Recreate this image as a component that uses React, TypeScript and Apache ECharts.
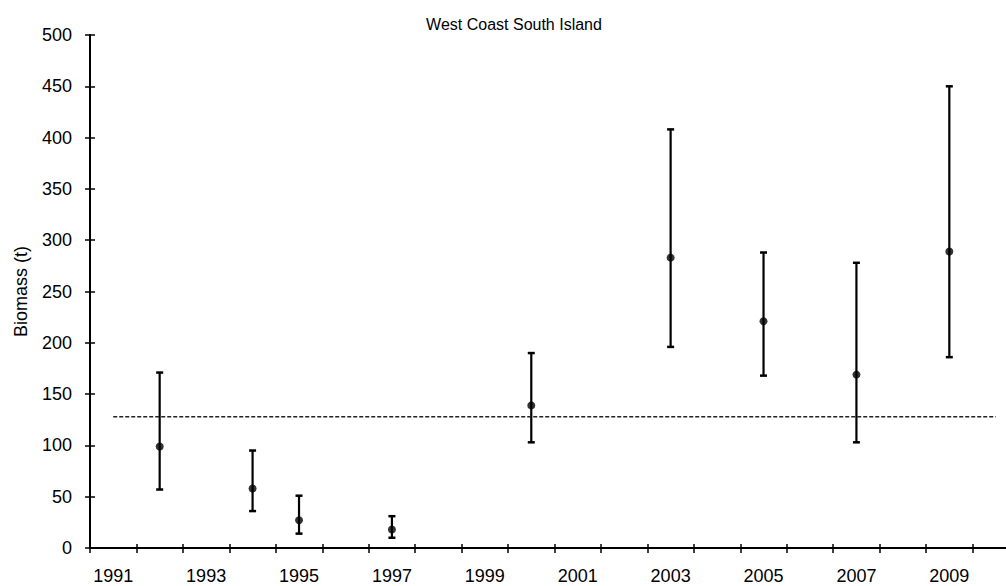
import React, { useEffect, useRef } from "react";
import * as echarts from "echarts";

const years = ["1991","1992","1993","1994","1995","1996","1997","1998","1999","2000","2001","2002","2003","2004","2005","2006","2007","2008","2009","2010"];
const surveyYears = ["1992","1994","1995","1997","2000","2003","2005","2007","2009"];
const biomass = [99, 58, 27, 18, 139, 283, 221, 169, 289];
const lowerCI = [57, 36, 14, 10, 103, 196, 168, 103, 186];
const upperCI = [171, 95, 51, 31, 190, 408, 288, 278, 450];
const referenceLevel = 128;
const referenceSpan = ["1991", "2010"];
const yTicks = { min: 0, max: 500, interval: 50 };

const FONT = "'Liberation Sans', Arial, sans-serif";

export default function App() {
  const ref = useRef<HTMLDivElement>(null);
  useEffect(() => {
    document.body.style.margin = "0";
    document.body.style.overflow = "hidden";
    const chart = echarts.init(ref.current!, undefined, { renderer: "svg" });
    const errData = surveyYears.map((y, i) => [y, lowerCI[i], upperCI[i]]);
    chart.setOption({
      animation: false,
      backgroundColor: "#fff",
      textStyle: { fontFamily: FONT },
      title: {
        text: "West Coast South Island",
        left: 509,
        top: 11,
        textAlign: "center",
        textStyle: { fontFamily: FONT, fontSize: 16, fontWeight: "normal", color: "#000" },
      },
      grid: { left: 90, top: 35, bottom: 38, right: 0, containLabel: false },
      xAxis: [
        {
          type: "category",
          data: years,
          boundaryGap: true,
          axisLine: { lineStyle: { color: "#000", width: 2 } },
          axisTick: { show: true, interval: 0, length: 5, lineStyle: { color: "#000", width: 1.5 } },
          axisLabel: { interval: 1, color: "#000", fontSize: 18, fontFamily: FONT, margin: 19 },
          splitLine: { show: false },
        },
        {
          type: "category",
          data: years,
          boundaryGap: true,
          position: "bottom",
          axisLine: { show: false },
          axisTick: { show: true, inside: true, interval: 0, length: 4, lineStyle: { color: "#000", width: 1.5 } },
          axisLabel: { show: false },
          splitLine: { show: false },
        },
      ],
      yAxis: [
        {
          type: "value",
          min: yTicks.min,
          max: yTicks.max,
          interval: yTicks.interval,
          name: "Biomass (t)",
          nameLocation: "middle",
          nameGap: 60,
          nameTextStyle: { fontFamily: FONT, fontSize: 18, color: "#000" },
          axisLine: { show: true, lineStyle: { color: "#000", width: 2 } },
          axisTick: { show: true, length: 5, lineStyle: { color: "#000", width: 1.5 } },
          axisLabel: { color: "#000", fontSize: 18, fontFamily: FONT, margin: 18 },
          splitLine: { show: false },
        },
        {
          type: "value",
          min: yTicks.min,
          max: yTicks.max,
          interval: yTicks.interval,
          position: "left",
          axisLine: { show: false },
          axisTick: { show: true, inside: true, length: 5, lineStyle: { color: "#000", width: 1.5 } },
          axisLabel: { show: false },
          splitLine: { show: false },
        },
      ],
      series: [
        {
          type: "line",
          xAxisIndex: 0,
          yAxisIndex: 0,
          data: referenceSpan.map((y) => [y, referenceLevel]),
          symbol: "none",
          lineStyle: { color: "#222", width: 1.5, type: [4, 2] },
          silent: true,
        },
        {
          type: "custom",
          xAxisIndex: 0,
          yAxisIndex: 0,
          data: errData,
          encode: { x: 0, y: [1, 2] },
          renderItem: (params: any, api: any) => {
            const x = api.value(0);
            const lo = api.coord([x, api.value(1)]);
            const hi = api.coord([x, api.value(2)]);
            const hw = 3.5;
            const st = { stroke: "#000", lineWidth: 2.2, fill: "none" };
            return {
              type: "group",
              children: [
                { type: "line", shape: { x1: lo[0], y1: lo[1], x2: hi[0], y2: hi[1] }, style: st },
                { type: "line", shape: { x1: lo[0] - hw, y1: lo[1], x2: lo[0] + hw, y2: lo[1] }, style: { ...st, lineWidth: 2.5 } },
                { type: "line", shape: { x1: hi[0] - hw, y1: hi[1], x2: hi[0] + hw, y2: hi[1] }, style: { ...st, lineWidth: 2.5 } },
              ],
            };
          },
          z: 3,
        },
        {
          type: "scatter",
          xAxisIndex: 0,
          yAxisIndex: 0,
          data: surveyYears.map((y, i) => [y, biomass[i]]),
          symbol: "circle",
          symbolSize: 8,
          itemStyle: { color: "#000" },
          z: 4,
        },
      ],
    });
    return () => chart.dispose();
  }, []);
  return <div ref={ref} style={{ width: 1019, height: 586 }} />;
}
